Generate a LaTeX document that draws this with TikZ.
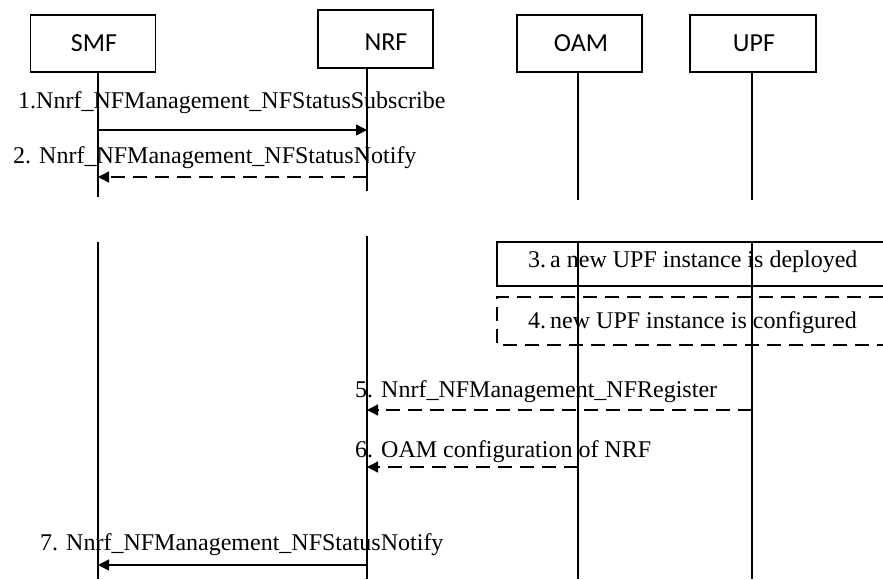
\documentclass[tikz,border=0pt]{standalone}
\usepackage{fontspec}
\setmainfont{Liberation Serif}
\newfontfamily\boxfont{Carlito}
\usetikzlibrary{arrows.meta}
\begin{document}
\begin{tikzpicture}[x=1pt,y=-1pt,
  entity/.style={draw,line width=1.6pt,minimum width=125pt,minimum height=57pt,inner sep=0pt},
  ename/.style={font=\boxfont\fontsize{26}{30}\selectfont},
  life/.style={line width=1.6pt},
  msg/.style={line width=1.4pt,-{Triangle[length=11pt,width=11pt]}},
  dsh/.style={dash pattern=on 14pt off 8pt},
  lbl/.style={font=\fontsize{24}{28}\selectfont,inner sep=0pt,anchor=base west},
  stepbox/.style={line width=1.4pt}]
\useasboundingbox (0,0) rectangle (883,579);
% entity boxes
\node[entity] (smf) at (93,43.5) {};
\node[ename] (smft) at (94,43) {SMF};
\node[entity,minimum width=115pt,minimum height=58pt] (nrf) at (375.5,39) {};
\node[ename] (nrft) at (386,42) {NRF};
\node[entity] (oam) at (579.5,43.5) {};
\node[ename] (oamt) at (581,43) {OAM};
\node[entity,minimum width=126pt] (upf) at (753,43.5) {};
\node[ename] (upft) at (754,43) {UPF};
% lifeline end points
\coordinate (smfA) at (98,72);   \coordinate (smfB) at (98,197);
\coordinate (smfC) at (98,242);  \coordinate (smfD) at (98,579);
\coordinate (nrfA) at (367,68);  \coordinate (nrfB) at (367,191);
\coordinate (nrfC) at (367,236); \coordinate (nrfD) at (367,579);
\coordinate (oamA) at (578,72);  \coordinate (oamB) at (578,200);
\coordinate (oamC) at (578,242); \coordinate (oamD) at (578,579);
\coordinate (upfA) at (752,72);  \coordinate (upfB) at (752,200);
\coordinate (upfC) at (752,242); \coordinate (upfD) at (752,579);
\draw[life] (smfA) -- (smfB) (smfC) -- (smfD);
\draw[life] (nrfA) -- (nrfB) (nrfC) -- (nrfD);
\draw[life] (oamA) -- (oamB) (oamC) -- (oamD);
\draw[life] (upfA) -- (upfB) (upfC) -- (upfD);
% step boxes 3 and 4
\draw[stepbox] (883,242) -- (497,242) -- (497,286) -- (883,286);
\node[lbl] (s3) at (528,267) {3.\,a new UPF instance is deployed};
\draw[stepbox,dsh] (883,297) -- (497,297) -- (497,345) -- (883,345);
\node[lbl] (s4) at (528,328) {4.\,new UPF instance is configured};
% message anchors
\coordinate (m1a) at (98,130);  \coordinate (m1b) at (367,130);
\coordinate (m2a) at (367,177); \coordinate (m2b) at (98,177);
\coordinate (m5a) at (752,410); \coordinate (m5b) at (367,410);
\coordinate (m6a) at (578,467); \coordinate (m6b) at (367,467);
\coordinate (m7a) at (367,565); \coordinate (m7b) at (98,565);
% messages
\node[lbl] (l1) at (18,108) {1.Nnrf\_NFManagement\_NFStatusSubscribe};
\draw[msg] (m1a) -- (m1b);
\node[lbl] (l2) at (13,163) {2. Nnrf\_NFManagement\_NFStatusNotify};
\draw[msg,dsh] (m2a) -- (m2b);
\node[lbl] (l5) at (355,397) {5. Nnrf\_NFManagement\_NFRegister};
\draw[msg,dsh] (m5a) -- (m5b);
\node[lbl] (l6) at (355,457) {6. OAM configuration of NRF};
\draw[msg,dsh] (m6a) -- (m6b);
\node[lbl] (l7) at (40,550) {7. Nnrf\_NFManagement\_NFStatusNotify};
\draw[msg] (m7a) -- (m7b);
\end{tikzpicture}
\end{document}
